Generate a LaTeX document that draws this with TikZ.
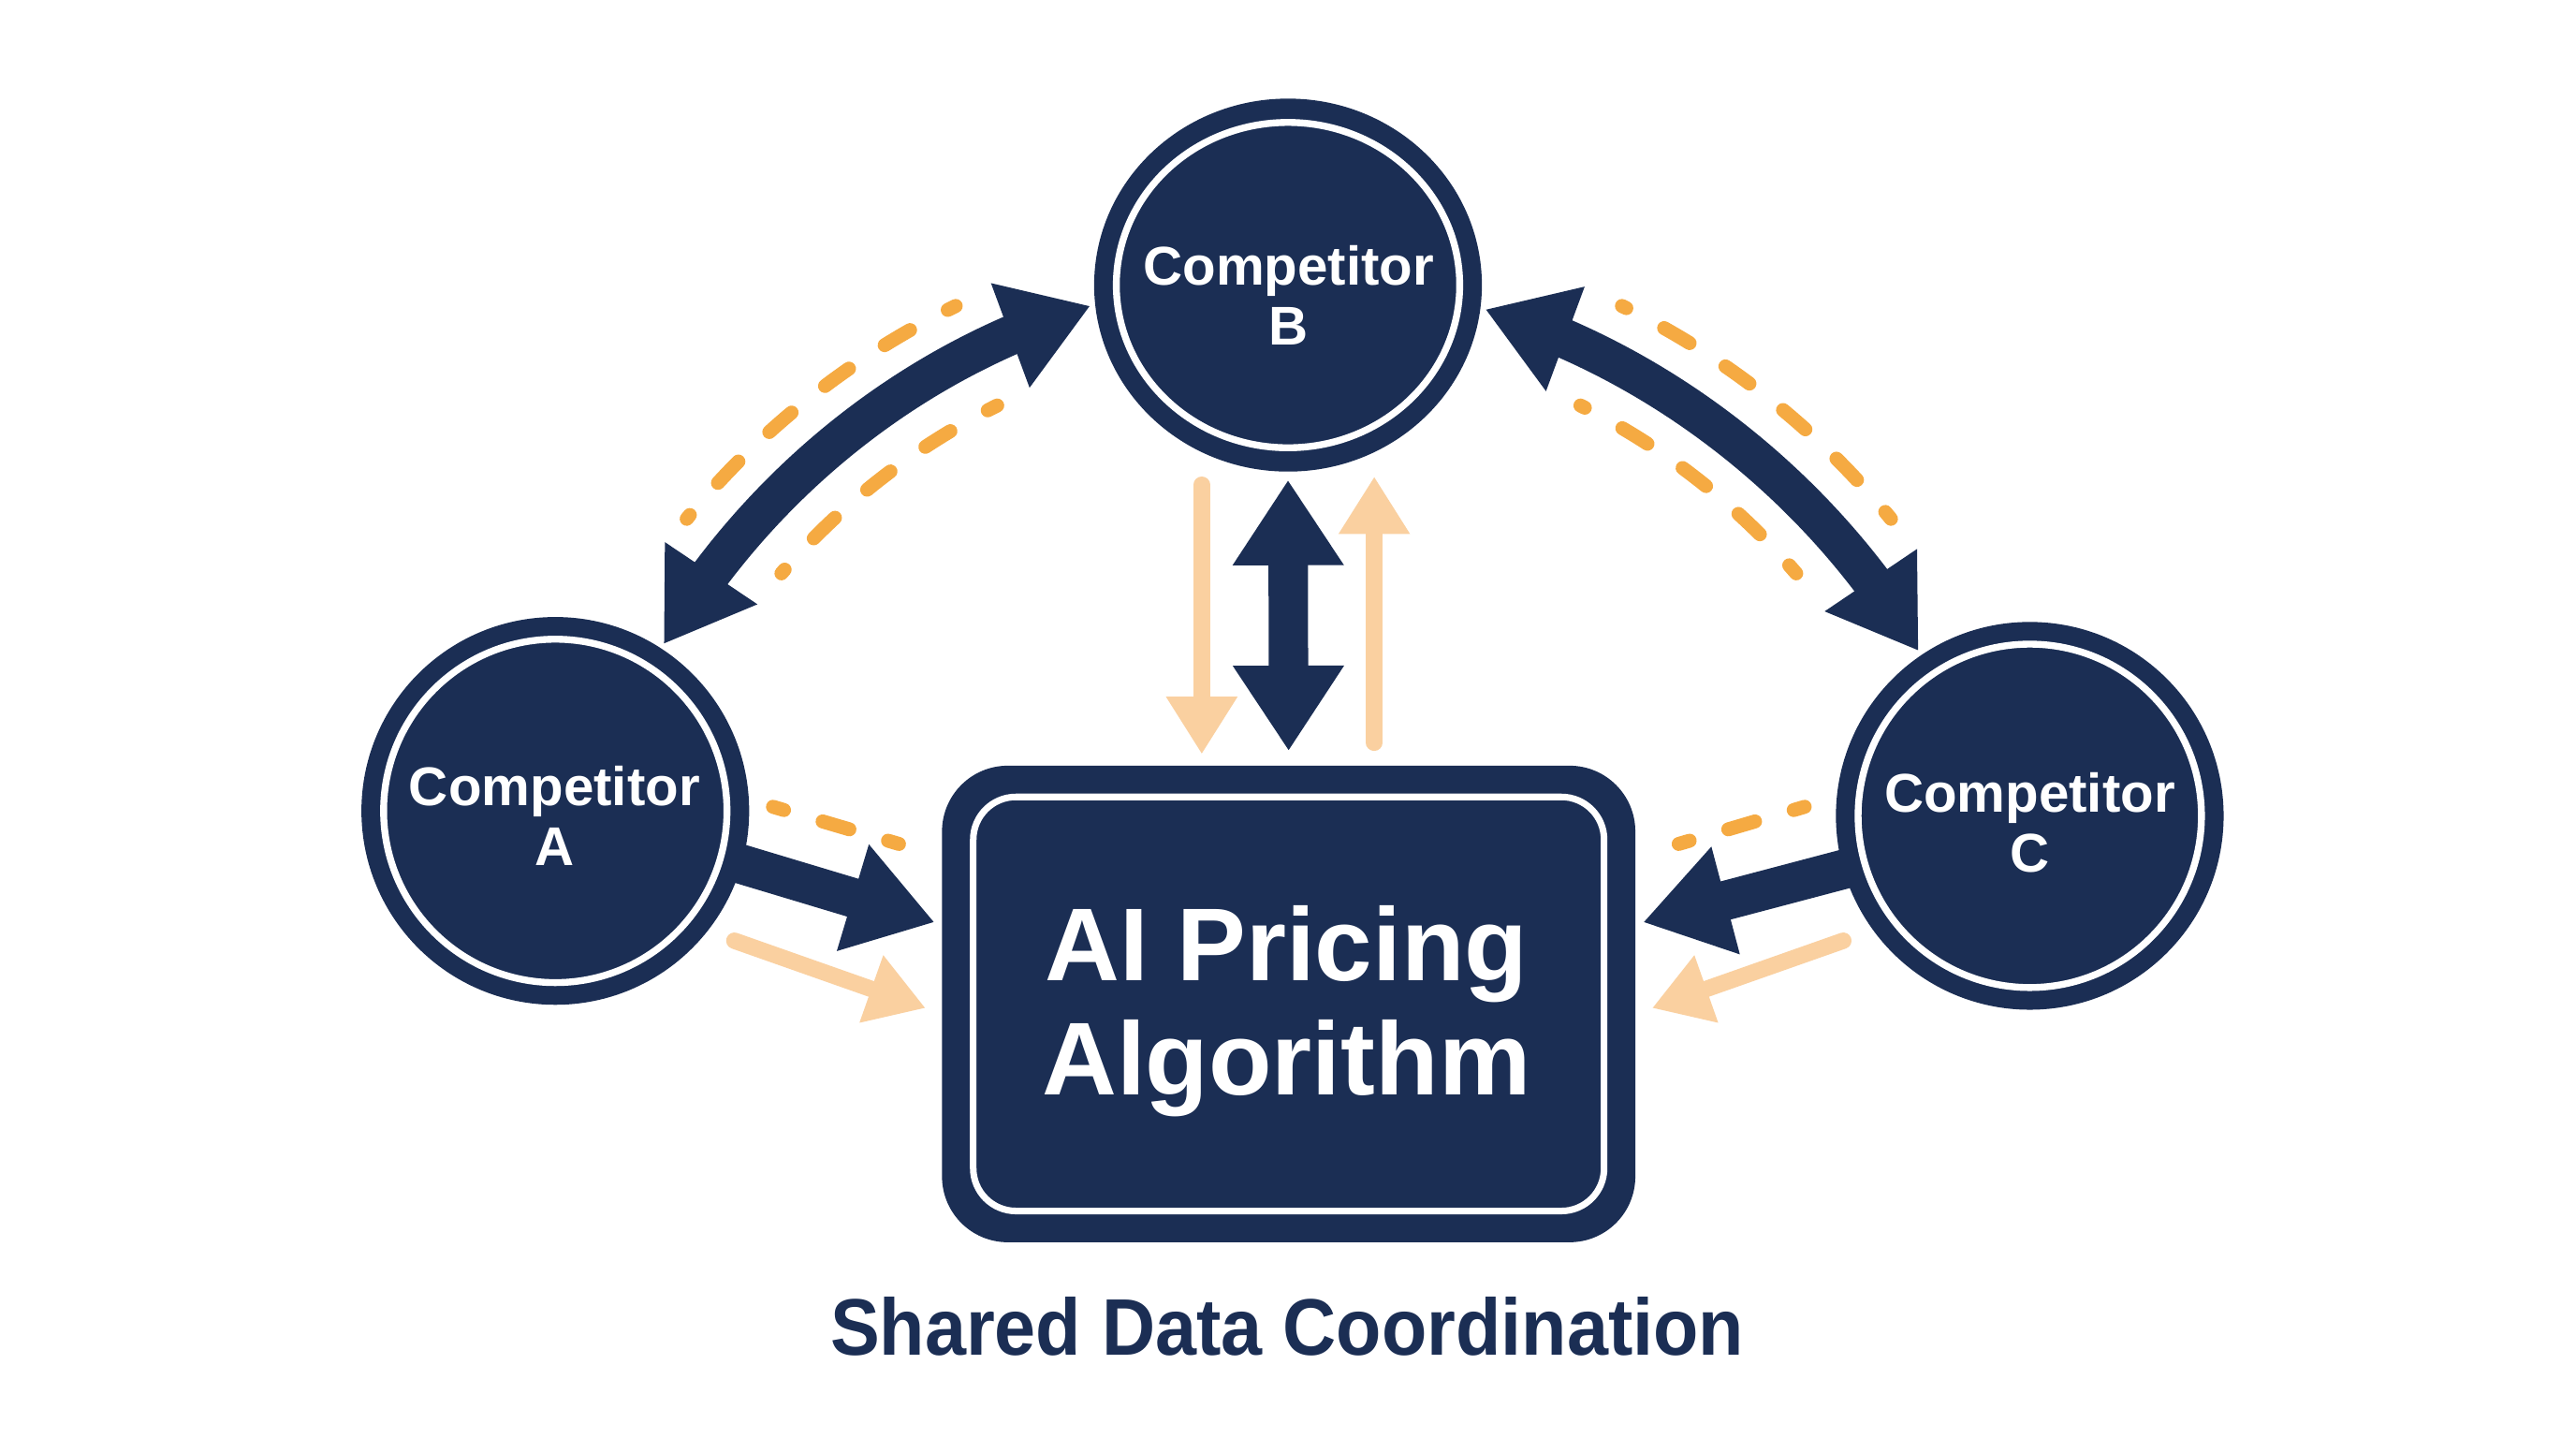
\documentclass[tikz,border=0pt]{standalone}
\usepackage{fontspec}
\setmainfont{Liberation Sans}
\usetikzlibrary{arrows.meta,bending,calc,shapes.geometric}
\definecolor{navy}{RGB}{27,46,84}
\definecolor{dashorange}{RGB}{245,170,66}
\definecolor{peach}{RGB}{250,208,160}
\begin{document}
\begin{tikzpicture}[x=0.5pt,y=-0.5pt,
  comp/.style={circle, fill=navy, minimum size=118pt, inner sep=0pt, outer sep=1.5pt,
    path picture={\draw[white, line width=2.1pt] (path picture bounding box.center) circle[radius=52.25pt];}},
  compe/.style={ellipse, fill=navy, minimum width=118pt, minimum height=113.5pt, inner sep=0pt, outer sep=1.5pt,
    path picture={\draw[white, line width=2.1pt] (path picture bounding box.center) ellipse[x radius=52.25pt, y radius=49.5pt];}},
  mainbox/.style={rectangle, rounded corners=20pt, fill=navy, minimum width=211pt, minimum height=145pt, inner sep=0pt,
    path picture={\draw[white, line width=2pt, rounded corners=13pt]
      ($(path picture bounding box.south west)+(9.5pt,9.5pt)$) rectangle
      ($(path picture bounding box.north east)+(-9.5pt,-9.5pt)$);}},
  complab/.style={text=white, align=center, font=\bfseries\fontsize{16.6}{18.25}\selectfont, inner sep=0pt},
  mainlab/.style={text=white, align=center, font=\bfseries\fontsize{31.5}{34.5}\selectfont, inner sep=0pt},
  titlelab/.style={text=navy, anchor=base, font=\bfseries\fontsize{24.4}{29}\selectfont, inner sep=0pt},
  dtip/.tip={Triangle[length=26pt,width=32pt]},
  ftip/.tip={Triangle[length=26pt,width=32pt,flex]},
  ptip/.tip={Triangle[length=17.5pt,width=20.5pt]},
  dbl/.style={draw=navy, line width=12pt, dtip-dtip},
  cdbl/.style={draw=navy, line width=12pt, ftip-ftip},
  sgl/.style={draw=navy, line width=12pt, -dtip},
  pch/.style={draw=peach, line width=5pt, line cap=round, -ptip},
  dcurve/.style={draw=dashorange, line width=4.25pt, line cap=round, dash pattern=on 9pt off 13pt, dash phase=7.5pt},
  dline/.style={draw=dashorange, line width=4.25pt, line cap=round, dash pattern=on 8.5pt off 12.25pt, dash phase=5pt}
]
\useasboundingbox (0,0) rectangle (1568,875);
\fill[white] (0,0) rectangle (1568,875);

% nodes
\node[comp] (A) at (338,493.5) {};
\node[compe] (B) at (784,173.5) {};
\node[comp] (C) at (1235.5,496.5) {};
\node[mainbox] (R) at (784.4,611) {};

\node[complab] (Alab) at (337.5,496.4) {Competitor\\A};
\node[complab] (Blab) at (784.5,179.9) {Competitor\\B};
\node[complab] (Clab) at (1235.5,500.4) {Competitor\\C};
\node[mainlab] (Rlab) at (783,615.4) {AI Pricing\\Algorithm};
\node[titlelab] (T) at (783.5,825) {\scalebox{0.924}[1]{Shared Data Coordination}};

% arc centres
\coordinate (OL) at (795,624);
\coordinate (OR) at (774,624);

% dashed arcs
\draw[dcurve] ($(OL)+(219.27:487)$) arc[start angle=219.27, end angle=244.03, radius=487];
\draw[dcurve] ($(OL)+(220.74:421.5)$) arc[start angle=220.74, end angle=243.51, radius=421.5];
\draw[dcurve] ($(OR)+(295.97:487)$) arc[start angle=295.97, end angle=320.73, radius=487];
\draw[dcurve] ($(OR)+(296.49:421.5)$) arc[start angle=296.49, end angle=319.26, radius=421.5];

% curved double arrows
\draw[cdbl] (A.57.6) .. controls +(58.1,-97.8) and +(-108.9,32.9) .. (B.186.5);
\draw[cdbl] (B.353.5) .. controls +(108.9,32.9) and +(-58.1,-97.8) .. (C.124.1);

% vertical arrows between B and R
\coordinate (pd1) at (731.5,295);
\coordinate (pd2) at (731.5,459);
\coordinate (pu1) at (836.5,452);
\coordinate (pu2) at (836.5,290);
\draw[pch] (pd1) -- (pd2);
\draw[pch] (pu1) -- (pu2);
\draw[dbl, shorten <=1pt, shorten >=4.25pt] (B.south) -- (R.north);

% A -> R
\coordinate (dA1) at (470.5,491);
\coordinate (dA2) at (547.2,513.6);
\coordinate (tA) at (568.9,561.3);
\coordinate (pA1) at (447,572.5);
\coordinate (pA2) at (563.4,613.5);
\draw[dline] (dA1) -- (dA2);
\draw[sgl, shorten <=-2pt] (A.-16.3) -- (tA);
\draw[pch] (pA1) -- (pA2);

% C -> R
\coordinate (dC1) at (1098.5,491);
\coordinate (dC2) at (1021.8,513.6);
\coordinate (tC) at (1000.1,561.3);
\coordinate (pC1) at (1122,572.5);
\coordinate (pC2) at (1005.6,613.5);
\draw[dline] (dC1) -- (dC2);
\draw[sgl, shorten <=-2pt] (C.196.3) -- (tC);
\draw[pch] (pC1) -- (pC2);
\end{tikzpicture}
\end{document}
